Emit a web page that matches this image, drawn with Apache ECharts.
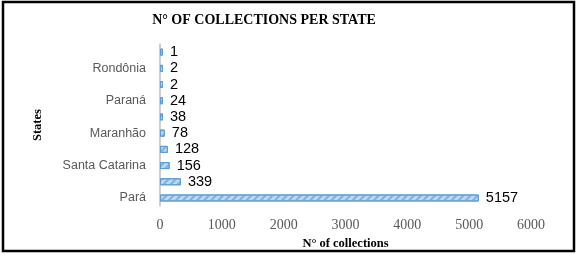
<!DOCTYPE html>
<html>
<head>
<meta charset="utf-8">
<script src="https://cdn.jsdelivr.net/npm/echarts@6/dist/echarts.min.js"></script>
<style>html,body{margin:0;padding:0;background:#fff}#c{width:579px;height:255px}</style>
</head>
<body>
<div id="c"></div>
<script>
// bottom to top
const states = ['Pará', 'Amazonas', 'Santa Catarina', 'Rio Grande do Sul', 'Maranhão', 'Mato Grosso', 'Paraná', 'São Paulo', 'Rondônia', 'Acre'];
const collections = [5157, 339, 156, 128, 78, 38, 24, 2, 2, 1];
const xTicks = [0, 1000, 2000, 3000, 4000, 5000, 6000];

const chart = echarts.init(document.getElementById('c'), null, {renderer: 'canvas'});
chart.setOption({
  animation: false,
  backgroundColor: '#ffffff',
  title: {
    text: 'N° OF COLLECTIONS PER STATE',
    left: 259, top: 8, textAlign: 'center',
    textStyle: {fontFamily: 'Liberation Serif', fontWeight: 'bold', fontSize: 14, color: '#000'}
  },
  grid: {left: 160, right: 48, top: 44, bottom: 48},
  xAxis: {
    type: 'value',
    min: xTicks[0], max: xTicks[xTicks.length - 1], interval: 1000,
    name: 'N° of collections', nameLocation: 'middle', nameGap: 28,
    nameTextStyle: {fontFamily: 'Liberation Serif', fontWeight: 'bold', fontSize: 12.5, color: '#000'},
    axisLine: {show: false}, axisTick: {show: false}, splitLine: {show: false},
    axisLabel: {fontFamily: 'Liberation Serif', fontSize: 14, color: '#595959', margin: 12,
      formatter: v => String(v)}
  },
  yAxis: {
    type: 'category', data: states,
    name: 'States', nameLocation: 'middle', nameGap: 116, nameRotate: 90,
    nameTextStyle: {fontFamily: 'Liberation Serif', fontWeight: 'bold', fontSize: 12.5, color: '#000'},
    axisLine: {show: true, lineStyle: {color: '#bfbfbf', width: 1.5}},
    axisTick: {show: false},
    axisLabel: {interval: 1, fontFamily: 'Liberation Sans', fontSize: 12.5, color: '#595959', margin: 14}
  },
  series: [{
    type: 'bar', data: collections, barWidth: 7, barMinHeight: 3,
    itemStyle: {
      color: '#bdd7ee', borderColor: '#5b9bd5', borderWidth: 1,
      decal: {symbol: 'rect', dashArrayX: [1, 0], dashArrayY: [1.5, 2.5], rotation: -Math.PI / 4, color: '#7fb0de', symbolSize: 1}
    },
    label: {show: true, position: 'right', distance: 7, fontFamily: 'Liberation Sans', fontSize: 14.5, color: '#000'}
  }],
  graphic: [{
    type: 'rect', shape: {x: 3, y: 2, width: 571, height: 249},
    style: {fill: 'none', stroke: '#000', lineWidth: 2.5}, silent: true
  }]
});
</script>
</body>
</html>
